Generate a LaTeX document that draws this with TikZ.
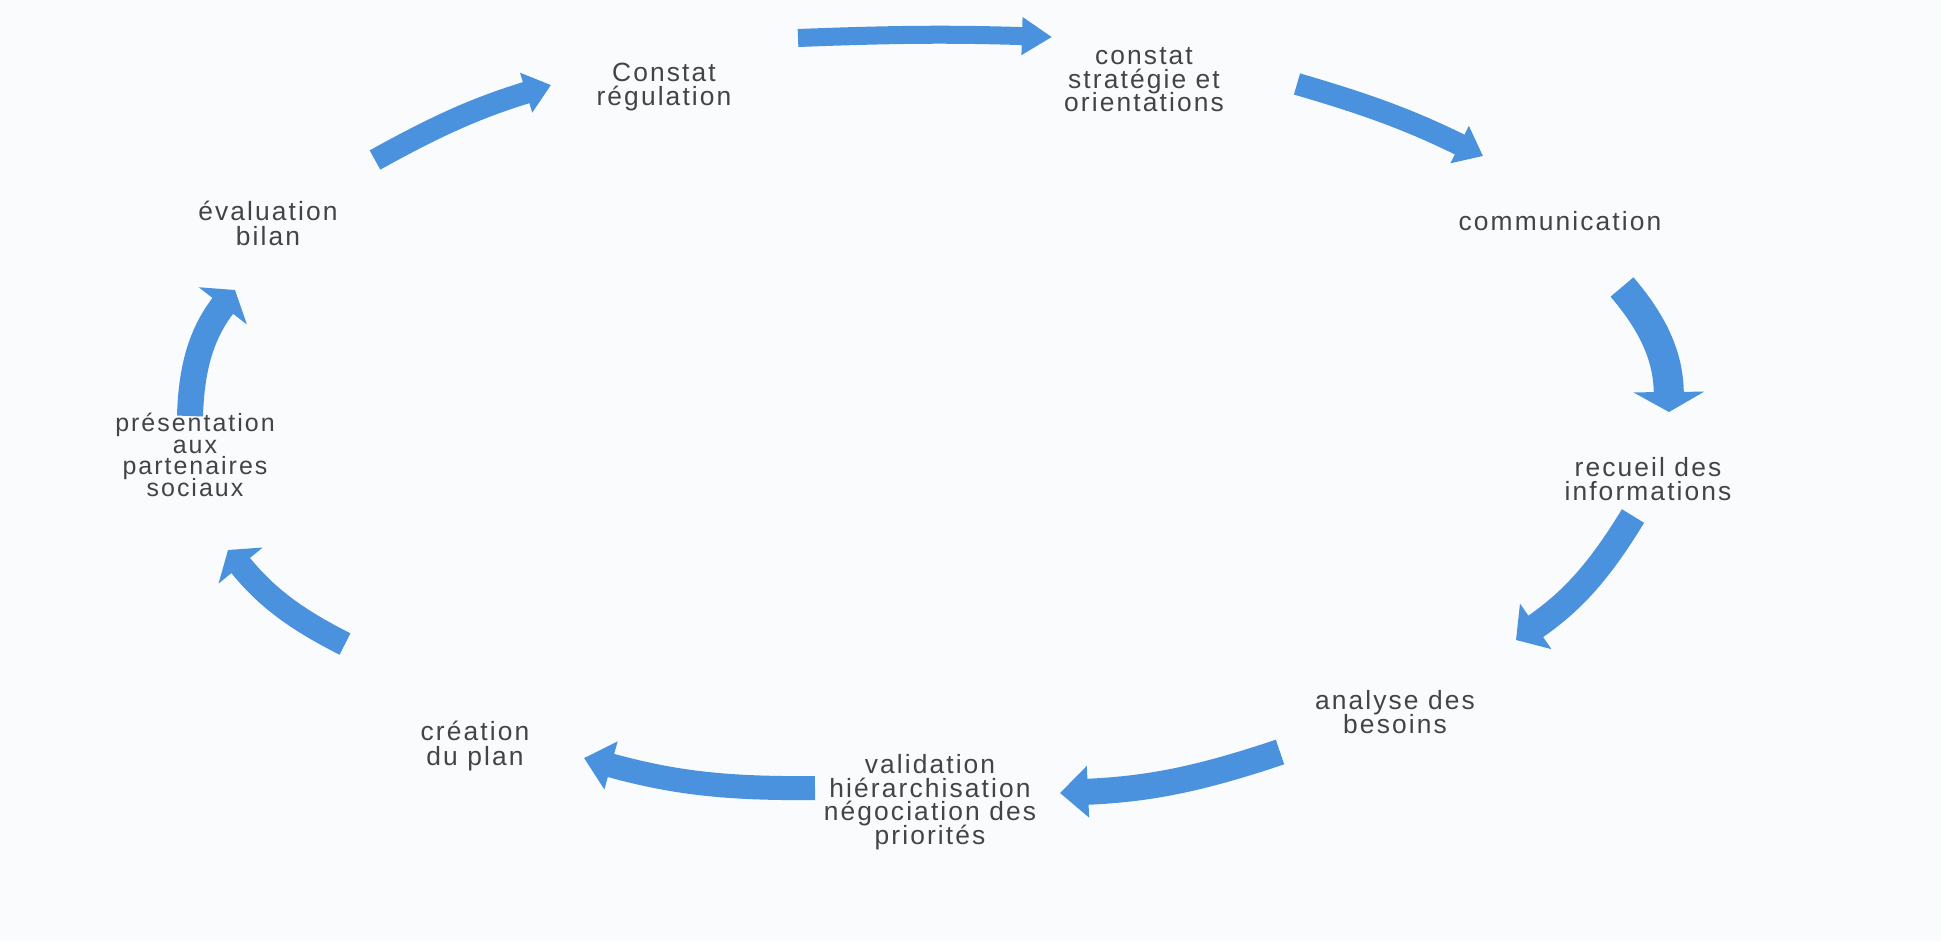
\documentclass[tikz,border=0pt]{standalone}
\usepackage{fontspec}
\setmainfont[LetterSpace=8]{Liberation Sans}
\usetikzlibrary{arrows.meta}
\definecolor{cycleblue}{RGB}{74,146,221}
\definecolor{labelgray}{RGB}{68,68,68}
\definecolor{paper}{RGB}{250,251,252}
% lines of a label keep their baseline distance even with accents and descenders
\newcommand{\fixedlines}{\lineskiplimit=-20pt\relax\lineskip=0pt\relax}

\begin{document}
\begin{tikzpicture}[x=0.01cm,y=-0.01cm,
  steplabel/.style={align=center, text=labelgray, inner sep=0pt,
    font=\fontsize{7.5}{6.7}\selectfont\fixedlines},
  widelabel/.style={steplabel,
    font=\fontsize{7.5}{7.1}\selectfont\fixedlines},
  tightlabel/.style={steplabel,
    font=\fontsize{7.1}{6.2}\selectfont\fixedlines},
  cyclearrow/.style n args={3}{draw=cycleblue, line width=#1, line cap=butt,
    -{Triangle[width=#2,length=#3]}}]

% page
\fill[paper] (0,0) rectangle (1941,941);
\useasboundingbox (0,0) rectangle (1941,941);

% steps of the cycle
\node[widelabel] (regul)   at (664,87)   {Constat\\régulation};
\node[steplabel] (strat)   at (1144,80)  {constat\\stratégie et\\orientations};
\node[steplabel] (comm)    at (1560,221) {communication};
\node[steplabel] (recueil) at (1648,479) {recueil des\\informations};
\node[steplabel] (besoins) at (1395,712) {analyse des\\besoins};
\node[steplabel] (valid)   at (930,802)  {validation\\hiérarchisation\\négociation des\\priorités};
\node[widelabel] (plan)    at (475,746)  {création\\du plan};
\node[tightlabel] (parten) at (195,455)  {présentation\\aux\\partenaires\\sociaux};
\node[widelabel] (bilan)   at (268,223)  {évaluation\\bilan};

% arrow ends between the steps
\coordinate (a1s) at (798,38);   \coordinate (a1e) at (1052,37);
\coordinate (a2s) at (1297,84);  \coordinate (a2e) at (1483,156);
\coordinate (a3s) at (1622,287); \coordinate (a3e) at (1669,412);
\coordinate (a4s) at (1633,516); \coordinate (a4e) at (1516,640);
\coordinate (a5s) at (1280,752); \coordinate (a5e) at (1060,793);
\coordinate (a6s) at (815,788);  \coordinate (a6e) at (584,758);
\coordinate (a7s) at (345,644);  \coordinate (a7e) at (228,550);
\coordinate (a8s) at (190,416);  \coordinate (a8e) at (235,290);
\coordinate (a9s) at (375,160);  \coordinate (a9e) at (551,85);

% curved arrows running clockwise
\draw[cyclearrow={0.18cm}{0.36cm}{0.30cm}] (a1s) to[bend left=2]  (a1e);
\draw[cyclearrow={0.22cm}{0.40cm}{0.26cm}] (a2s) to[bend left=5]  (a2e);
\draw[cyclearrow={0.30cm}{0.70cm}{0.20cm}] (a3s) to[bend left=20] (a3e);
\draw[cyclearrow={0.26cm}{0.54cm}{0.24cm}] (a4s) to[bend left=12] (a4e);
\draw[cyclearrow={0.26cm}{0.50cm}{0.28cm}] (a5s) to[bend left=8]  (a5e);
\draw[cyclearrow={0.24cm}{0.48cm}{0.28cm}] (a6s) to[bend left=8]  (a6e);
\draw[cyclearrow={0.24cm}{0.56cm}{0.20cm}] (a7s) to[bend left=12] (a7e);
\draw[cyclearrow={0.26cm}{0.60cm}{0.20cm}] (a8s) to[bend left=18] (a8e);
\draw[cyclearrow={0.22cm}{0.40cm}{0.26cm}] (a9s) to[bend left=6]  (a9e);
\end{tikzpicture}
\end{document}
